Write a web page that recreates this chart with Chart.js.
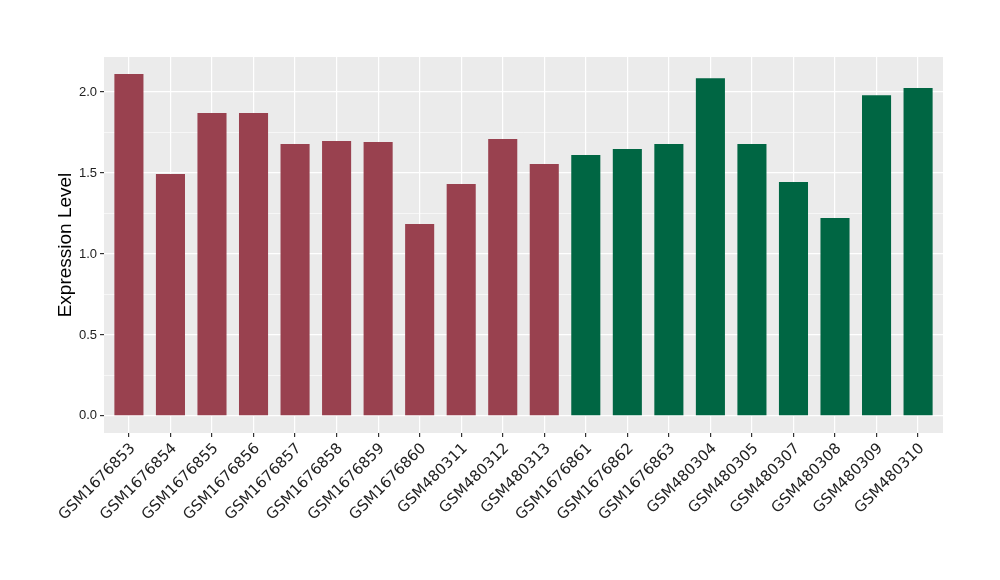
<!DOCTYPE html>
<html lang="en">
<head>
    <meta charset="UTF-8">
    <title>Expression Level</title>
    <script src="https://cdn.jsdelivr.net/npm/chart.js"></script>
    <style>
        body {
            margin: 0;
            background-color: #fff;
        }
        .chart-container {
            width: 1000px;
            height: 580px;
        }
    </style>
</head>
<body>
    <div class="chart-container">
        <canvas id="exprChart"></canvas>
    </div>

    <script>
        // Sample names
        const samples = [
            'GSM1676853', 'GSM1676854', 'GSM1676855', 'GSM1676856', 'GSM1676857',
            'GSM1676858', 'GSM1676859', 'GSM1676860', 'GSM480311', 'GSM480312',
            'GSM480313', 'GSM1676861', 'GSM1676862', 'GSM1676863', 'GSM480304',
            'GSM480305', 'GSM480307', 'GSM480308', 'GSM480309', 'GSM480310'
        ];

        // Expression level per sample
        const levels = [
            2.111, 1.494, 1.870, 1.870, 1.679,
            1.698, 1.691, 1.185, 1.432, 1.710,
            1.556, 1.611, 1.648, 1.679, 2.086,
            1.679, 1.444, 1.222, 1.981, 2.025
        ];

        // Group of each sample
        const groups = [
            'A', 'A', 'A', 'A', 'A', 'A', 'A', 'A', 'A', 'A',
            'A', 'B', 'B', 'B', 'B', 'B', 'B', 'B', 'B', 'B'
        ];

        // Y axis ticks (major every 0.5, minor in between)
        const yTicks = [0, 0.25, 0.5, 0.75, 1.0, 1.25, 1.5, 1.75, 2.0];

        const groupColors = { A: '#99414F', B: '#006643' };

        // grey panel behind the plot
        const panelBg = {
            id: 'panelBg',
            beforeDraw(chart) {
                const a = chart.chartArea;
                const ctx = chart.ctx;
                ctx.save();
                ctx.fillStyle = '#EBEBEB';
                ctx.fillRect(a.left, a.top, a.right - a.left, a.bottom - a.top);
                ctx.restore();
            }
        };

        const isMajor = v => Math.abs(v * 2 - Math.round(v * 2)) < 1e-9;

        new Chart(document.getElementById('exprChart'), {
            type: 'bar',
            data: {
                datasets: [{
                    label: 'Expression Level',
                    data: levels.map((v, i) => ({ x: i, y: v })),
                    backgroundColor: groups.map(g => groupColors[g]),
                    borderWidth: 0,
                    barPercentage: 0.7,
                    categoryPercentage: 1.0
                }]
            },
            options: {
                responsive: true,
                maintainAspectRatio: false,
                animation: false,
                layout: {
                    padding: { left: 40, right: 57, top: 57, bottom: 0 }
                },
                scales: {
                    x: {
                        type: 'linear',
                        offset: false,
                        min: -0.6,
                        max: 19.6,
                        afterBuildTicks: scale => {
                            scale.ticks = samples.map((s, i) => ({ value: i }));
                        },
                        afterFit: scale => {
                            scale.height = 147;
                        },
                        ticks: {
                            autoSkip: false,
                            minRotation: 45,
                            maxRotation: 45,
                            padding: 3,
                            labelOffset: 4,
                            color: '#222',
                            font: { family: 'DejaVu Sans', size: 15 },
                            callback: value => samples[value]
                        },
                        grid: {
                            offset: false,
                            color: '#FFFFFF',
                            lineWidth: 1.2,
                            tickLength: 4,
                            tickColor: '#333333'
                        },
                        border: { display: false }
                    },
                    y: {
                        min: -0.1056,
                        max: 2.2166,
                        afterBuildTicks: scale => {
                            scale.ticks = yTicks.map(v => ({ value: v }));
                        },
                        afterFit: scale => {
                            scale.width = 64;
                        },
                        ticks: {
                            padding: 3,
                            color: '#222',
                            font: { family: 'Liberation Sans', size: 13 },
                            callback: value => isMajor(value) ? value.toFixed(1) : ''
                        },
                        grid: {
                            color: '#FFFFFF',
                            lineWidth: ctx => (ctx.tick && isMajor(ctx.tick.value)) ? 1.2 : 0.6,
                            tickLength: 4,
                            tickColor: ctx => (ctx.tick && isMajor(ctx.tick.value)) ? '#333333' : 'rgba(0,0,0,0)'
                        },
                        border: { display: false },
                        title: {
                            display: true,
                            text: 'Expression Level',
                            color: '#000',
                            padding: { top: 14, bottom: 0 },
                            font: { family: 'Liberation Sans', size: 19 }
                        }
                    }
                },
                plugins: {
                    legend: { display: false },
                    tooltip: { enabled: false }
                }
            },
            plugins: [panelBg]
        });
    </script>
</body>
</html>
